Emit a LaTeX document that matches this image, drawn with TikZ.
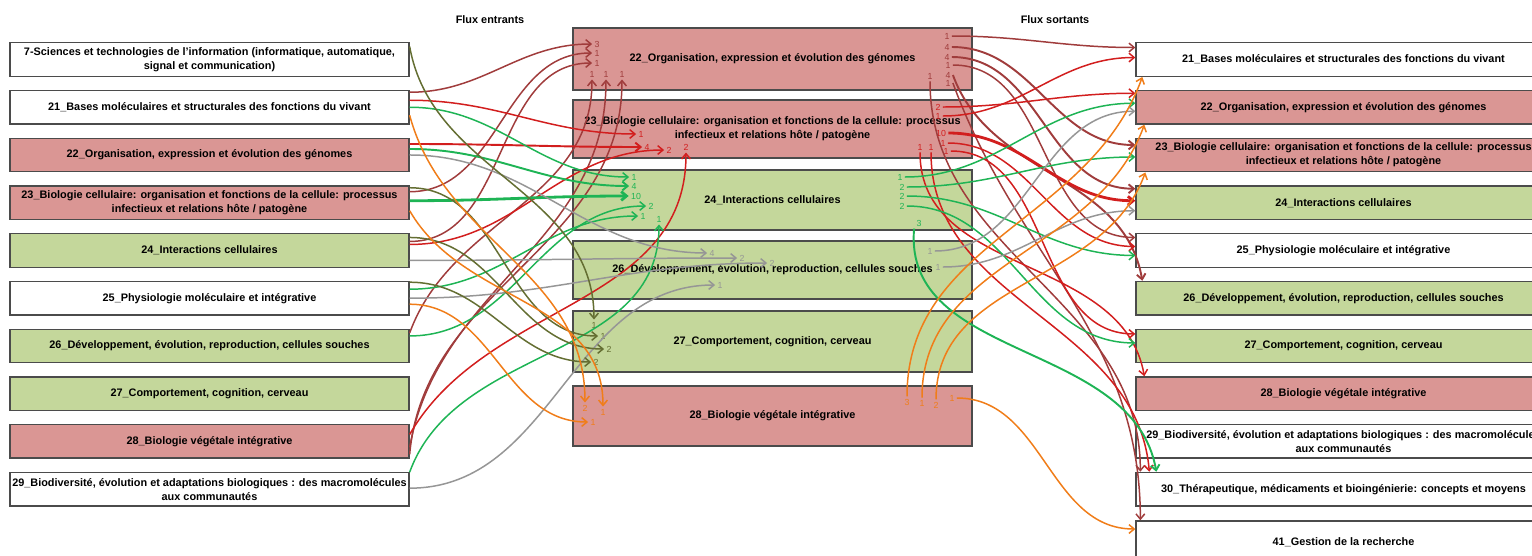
\documentclass[tikz,border=0pt]{standalone}
\usepackage{fontspec}
\setmainfont{Liberation Sans}
\usetikzlibrary{arrows.meta,calc}

\definecolor{rose}{RGB}{218,150,148}
\definecolor{vert}{RGB}{196,215,155}
\definecolor{cadre}{RGB}{75,75,75}
\definecolor{brun}{RGB}{160,60,60}
\definecolor{rouge}{RGB}{210,30,30}
\definecolor{vif}{RGB}{30,180,85}
\definecolor{gris}{RGB}{150,150,150}
\definecolor{olive}{RGB}{100,110,50}
\definecolor{orange}{RGB}{240,125,25}

\begin{document}
\begin{tikzpicture}[x=0.02cm,y=-0.02cm,node distance=0.955cm,font=\bfseries\fontsize{6.2}{7.9}\selectfont]
	\tikzstyle{block} = [rectangle, draw=cadre, line width=0.8pt, fill=white, minimum width=7.98cm, minimum height=0.67cm, align=center, inner sep=1pt];
	\tikzstyle{droite} = [block, minimum width=8.3cm];
	\tikzstyle{milieu} = [block, minimum height=1.2cm];
	\tikzstyle{nb} = [font=\fontsize{5}{6}\selectfont, inner sep=1.2pt];
	\tikzstyle{flux} = [line width=0.85pt, -{Straight Barb[length=3pt,width=5pt]}];
	\tikzstyle{moyen} = [line width=1.1pt];
	\tikzstyle{gros} = [line width=1.6pt];
	\useasboundingbox (0,0) rectangle (1532,555);

	\draw node (titre1) at (490,20) {Flux entrants};
	\draw node (titre2) at (1055,20) {Flux sortants};

	% colonne de gauche
	\draw node [block] (g7) at (209.5,59.5) {7-Sciences et technologies de l'information (informatique, automatique,\\signal et communication)};
	\draw node [block, below of=g7] (g21) {21\_Bases moléculaires et structurales des fonctions du vivant};
	\draw node [block, fill=rose, below of=g21] (g22) {22\_Organisation, expression et évolution des génomes};
	\draw node [block, fill=rose, below of=g22] (g23) {23\_Biologie cellulaire: organisation et fonctions de la cellule: processus\\infectieux et relations hôte / patogène};
	\draw node [block, fill=vert, below of=g23] (g24) {24\_Interactions cellulaires};
	\draw node [block, below of=g24] (g25) {25\_Physiologie moléculaire et intégrative};
	\draw node [block, fill=vert, below of=g25] (g26) {26\_Développement, évolution, reproduction, cellules souches};
	\draw node [block, fill=vert, below of=g26] (g27) {27\_Comportement, cognition, cerveau};
	\draw node [block, fill=rose, below of=g27] (g28) {28\_Biologie végétale intégrative};
	\draw node [block, below of=g28] (g29) {29\_Biodiversité, évolution et adaptations biologiques : des macromolécules\\aux communautés};

	% colonne du milieu
	\draw node [milieu, fill=rose, minimum height=1.24cm] (m22) at (772.5,59) {22\_Organisation, expression et évolution des génomes};
	\draw node [milieu, fill=rose, minimum height=1.16cm] (m23) at (772.5,129) {23\_Biologie cellulaire: organisation et fonctions de la cellule: processus\\infectieux et relations hôte / patogène};
	\draw node [milieu, fill=vert] (m24) at (772.5,200) {24\_Interactions cellulaires};
	\draw node [milieu, fill=vert, minimum height=1.16cm] (m26) at (772.5,270) {26\_Développement, évolution, reproduction, cellules souches};
	\draw node [milieu, fill=vert, minimum height=1.22cm] (m27) at (772.5,341.5) {27\_Comportement, cognition, cerveau};
	\draw node [milieu, fill=rose] (m28) at (772.5,416) {28\_Biologie végétale intégrative};

	% colonne de droite
	\draw node [droite] (d21) at (1343.5,59.5) {21\_Bases moléculaires et structurales des fonctions du vivant};
	\draw node [droite, fill=rose, below of=d21] (d22) {22\_Organisation, expression et évolution des génomes};
	\draw node [droite, fill=rose, below of=d22] (d23) {23\_Biologie cellulaire: organisation et fonctions de la cellule: processus\\infectieux et relations hôte / patogène};
	\draw node [droite, fill=vert, below of=d23] (d24) {24\_Interactions cellulaires};
	\draw node [droite, below of=d24] (d25) {25\_Physiologie moléculaire et intégrative};
	\draw node [droite, fill=vert, below of=d25] (d26) {26\_Développement, évolution, reproduction, cellules souches};
	\draw node [droite, fill=vert, below of=d26] (d27) {27\_Comportement, cognition, cerveau};
	\draw node [droite, fill=rose, below of=d27] (d28) {28\_Biologie végétale intégrative};
	\draw node [droite, below of=d28] (d29) {29\_Biodiversité, évolution et adaptations biologiques : des macromolécules\\aux communautés};
	\draw node [droite, below of=d29] (d30) {30\_Thérapeutique, médicaments et bioingénierie: concepts et moyens};
	\draw node [droite, minimum height=0.84cm] (d41) at (1343.5,542) {41\_Gestion de la recherche};

	% flux entrants
	\draw node [nb, text=brun] (a1) at (597,44) {3};
	\draw node [nb, text=brun] (a2) at (597,53) {1};
	\draw node [nb, text=brun] (a3) at (597,63) {1};
	\draw node [nb, text=brun] (a4) at (592,74) {1};
	\draw node [nb, text=brun] (a5) at (606,74) {1};
	\draw node [nb, text=brun] (a6) at (622,74) {1};
	\draw node [nb, text=rouge] (b1) at (641,134) {1};
	\draw node [nb, text=rouge] (b2) at (647,147) {4};
	\draw node [nb, text=rouge] (b3) at (669,150) {2};
	\draw node [nb, text=rouge] (b4) at (686,147) {2};
	\draw node [nb, text=vif] (c1) at (634,177) {1};
	\draw node [nb, text=vif] (c2) at (634,186) {4};
	\draw node [nb, text=vif] (c3) at (636,196) {10};
	\draw node [nb, text=vif] (c4) at (651,206) {2};
	\draw node [nb, text=vif] (c5) at (643,216) {1};
	\draw node [nb, text=vif] (c6) at (659,219) {1};
	\draw node [nb, text=gris] (e1) at (712,253) {4};
	\draw node [nb, text=gris] (e2) at (742,258) {2};
	\draw node [nb, text=gris] (e3) at (772,263) {2};
	\draw node [nb, text=gris] (e4) at (720,285) {1};
	\draw node [nb, text=olive] (f1) at (594,325) {1};
	\draw node [nb, text=olive] (f2) at (603,336) {1};
	\draw node [nb, text=olive] (f3) at (609,349) {2};
	\draw node [nb, text=olive] (f4) at (596,362) {2};
	\draw node [nb, text=orange] (h1) at (585,408) {2};
	\draw node [nb, text=orange] (h2) at (603,412) {1};
	\draw node [nb, text=orange] (h3) at (593,422) {1};

	\draw [flux, brun] ($(g21.east)+(0,-15)$) to[out=0,in=180] (a1.west);
	\draw [flux, brun] ($(g23.east)+(0,-11)$) to[out=0,in=180] (a2.west);
	\draw [flux, brun] ($(g24.east)+(0,-9)$) to[out=0,in=180] (a3.west);
	\draw [flux, brun] ($(g26.east)+(0,-13)$) to[out=70,in=-90] (a4.south);
	\draw [flux, brun] ($(g28.east)+(0,6)$) to[out=80,in=-90] (a5.south);
	\draw [flux, brun] ($(g28.east)+(0,13)$) to[out=85,in=-90] (a6.south);
	\draw [flux, rouge] ($(g21.east)+(0,-7)$) to[out=0,in=180] (b1.west);
	\draw [flux, rouge, moyen] ($(g22.east)+(0,-11)$) to[out=0,in=180] (b2.west);
	\draw [flux, rouge] ($(g24.east)+(0,-6)$) to[out=0,in=180] (b3.west);
	\draw [flux, rouge] ($(g28.east)+(0,-7)$) to[out=60,in=-90] (b4.south);
	\draw [flux, vif] ($(g21.east)+(0,0)$) to[out=0,in=180] (c1.west);
	\draw [flux, vif, moyen] ($(g22.east)+(0,-6)$) to[out=0,in=180] (c2.west);
	\draw [flux, vif, gros] ($(g23.east)+(0,-2)$) to[out=0,in=180] (c3.west);
	\draw [flux, vif] ($(g26.east)+(0,-10)$) to[out=0,in=180] (c4.west);
	\draw [flux, vif] ($(g25.east)+(0,-9)$) to[out=0,in=180] (c5.west);
	\draw [flux, vif] ($(g29.east)+(0,-17)$) to[out=70,in=-90] (c6.south);
	\draw [flux, gris] ($(g22.east)+(0,0)$) to[out=0,in=180] (e1.west);
	\draw [flux, gris] ($(g24.east)+(0,10)$) to[out=0,in=180] (e2.west);
	\draw [flux, gris] ($(g25.east)+(0,0)$) to[out=0,in=180] (e3.west);
	\draw [flux, gris] ($(g29.east)+(0,-1)$) to[out=0,in=180] (e4.west);
	\draw [flux, olive] ($(g7.east)+(0,-13)$) to[out=-80,in=90] (f1.north);
	\draw [flux, olive] ($(g23.east)+(0,-15)$) to[out=0,in=180] (f2.west);
	\draw [flux, olive] ($(g24.east)+(0,-13)$) to[out=0,in=180] (f3.west);
	\draw [flux, olive] ($(g25.east)+(0,-16)$) to[out=0,in=180] (f4.west);
	\draw [flux, orange] ($(g21.east)+(0,8)$) to[out=-75,in=90] (h1.north);
	\draw [flux, orange] ($(g23.east)+(0,8)$) to[out=-60,in=90] (h2.north);
	\draw [flux, orange] ($(g25.east)+(0,6)$) to[out=0,in=180] (h3.west);

	% flux sortants
	\draw node [nb, text=brun] (s1) at (947,36) {1};
	\draw node [nb, text=brun] (s2) at (947,47) {4};
	\draw node [nb, text=brun] (s3) at (947,57) {4};
	\draw node [nb, text=brun] (s4) at (948,65) {1};
	\draw node [nb, text=brun] (s5) at (930,76) {1};
	\draw node [nb, text=brun] (s6) at (948,75) {4};
	\draw node [nb, text=brun] (s7) at (948,83) {1};
	\draw node [nb, text=rouge] (t1) at (938,107) {2};
	\draw node [nb, text=rouge] (t2) at (938,116) {1};
	\draw node [nb, text=rouge] (t3) at (941,133) {10};
	\draw node [nb, text=rouge] (t4) at (943,143) {1};
	\draw node [nb, text=rouge] (t5) at (946,151) {1};
	\draw node [nb, text=rouge] (t6) at (920,147) {1};
	\draw node [nb, text=rouge] (t7) at (931,147) {1};
	\draw node [nb, text=vif] (u1) at (900,177) {1};
	\draw node [nb, text=vif] (u2) at (902,187) {2};
	\draw node [nb, text=vif] (u3) at (902,196) {2};
	\draw node [nb, text=vif] (u4) at (902,206) {2};
	\draw node [nb, text=vif] (u5) at (919,223) {3};
	\draw node [nb, text=gris] (v1) at (930,251) {1};
	\draw node [nb, text=gris] (v2) at (938,267) {1};
	\draw node [nb, text=orange] (w1) at (907,402) {3};
	\draw node [nb, text=orange] (w2) at (922,403) {1};
	\draw node [nb, text=orange] (w3) at (936,405) {2};
	\draw node [nb, text=orange] (w4) at (952,398) {1};

	\draw [flux, brun] (s1.east) to[out=0,in=180] ($(d21.west)+(0,-12)$);
	\draw [flux, brun, moyen] (s2.east) to[out=0,in=180] ($(d23.west)+(0,-10)$);
	\draw [flux, brun, moyen] (s3.east) to[out=0,in=180] ($(d24.west)+(0,-14)$);
	\draw [flux, brun] (s4.east) to[out=0,in=180] ($(d25.west)+(0,-13)$);
	\draw [flux, brun] (s5.south) to[out=-90,in=90] ($(d30.north west)+(5,0)$);
	\draw [flux, brun, moyen] (s6.east) to[out=-70,in=100] ($(d26.north west)+(7,0)$);
	\draw [flux, brun] (s7.east) to[out=-70,in=90] ($(d41.north west)+(5,0)$);
	\draw [flux, rouge] (t1.east) to[out=0,in=180] ($(d22.west)+(0,-14)$);
	\draw [flux, rouge] (t2.east) to[out=0,in=180] ($(d21.west)+(0,-2)$);
	\draw [flux, rouge, gros] (t3.east) to[out=0,in=180] ($(d24.west)+(0,-2)$);
	\draw [flux, rouge] (t4.east) to[out=0,in=180] ($(d25.west)+(0,-4)$);
	\draw [flux, rouge] (t5.east) to[out=0,in=180] ($(d27.west)+(0,-12)$);
	\draw [flux, rouge] (t6.south) to[out=-90,in=100] ($(d28.north west)+(9,0)$);
	\draw [flux, rouge] (t7.south) to[out=-90,in=95] ($(d30.north west)+(14,0)$);
	\draw [flux, vif] (u1.east) to[out=0,in=180] ($(d22.west)+(0,-4)$);
	\draw [flux, vif] (u2.east) to[out=0,in=180] ($(d23.west)+(0,2)$);
	\draw [flux, vif] (u3.east) to[out=0,in=180] ($(d25.west)+(0,5)$);
	\draw [flux, vif] (u4.east) to[out=0,in=180] ($(d27.west)+(0,-3)$);
	\draw [flux, vif, moyen] (u5.south west) to[out=-95,in=100] ($(d30.north west)+(21,0)$);
	\draw [flux, gris] (v1.east) to[out=0,in=180] ($(d22.west)+(0,4)$);
	\draw [flux, gris] (v2.east) to[out=0,in=180] ($(d24.west)+(0,8)$);
	\draw [flux, orange] (w1.north) to[out=90,in=-110] ($(d21.south west)+(7,0)$);
	\draw [flux, orange] (w2.north) to[out=90,in=-110] ($(d22.south west)+(9,0)$);
	\draw [flux, orange] (w3.north) to[out=90,in=-110] ($(d23.south west)+(10,0)$);
	\draw [flux, orange] (w4.east) to[out=0,in=180] ($(d41.west)+(0,-13)$);
\end{tikzpicture}
\end{document}
